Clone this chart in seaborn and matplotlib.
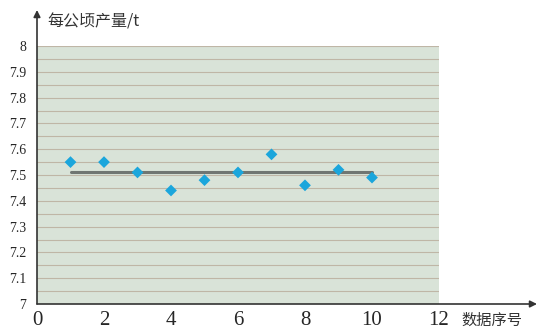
import matplotlib
matplotlib.use("Agg")
import matplotlib.pyplot as plt
import seaborn as sns
import pandas as pd

# data
seq = [1, 2, 3, 4, 5, 6, 7, 8, 9, 10]
yield_t = [7.55, 7.55, 7.51, 7.44, 7.48, 7.51, 7.58, 7.46, 7.52, 7.49]
mean_x = [1, 10]
mean_y = [7.51, 7.51]
xticks = [0, 2, 4, 6, 8, 10, 12]
yticks = [7, 7.1, 7.2, 7.3, 7.4, 7.5, 7.6, 7.7, 7.8, 7.9, 8]
ytick_labels = ["7", "7.1", "7.2", "7.3", "7.4", "7.5", "7.6", "7.7", "7.8", "7.9", "8"]
ylabel = "每公顷产量/t"
xlabel = "数据序号"

sns.set_theme(style="white")
plt.rcParams['font.family'] = ['Liberation Serif', 'Noto Sans CJK SC']

W, H = 539, 329
fig = plt.figure(figsize=(W / 100, H / 100), dpi=100)
L, R, T, B = 37, 439, 46, 304
ax = fig.add_axes([L / W, 1 - B / H, (R - L) / W, (B - T) / H])
ax.set_facecolor("#d9e3d8")

# horizontal grid lines every 0.05
for k in range(1, 21):
    ax.axhline(7 + k * 0.05, color="#bfb6a6", lw=0.8, zorder=1)

df = pd.DataFrame({"x": seq, "y": yield_t})
sns.lineplot(x=mean_x, y=mean_y, ax=ax, color="#707672", lw=2.2, zorder=3)
sns.scatterplot(data=df, x="x", y="y", ax=ax, marker="D", s=36, color="#1ba6dc",
                edgecolor="none", zorder=4)

ax.set_xlim(0, 12)
ax.set_ylim(7, 8)
ax.set_xticks(xticks)
ax.set_xticklabels([str(v) for v in xticks], fontsize=15, family='Liberation Serif')
ax.set_yticks(yticks)
ax.set_yticklabels(ytick_labels, fontsize=10, family='Liberation Serif')
ax.tick_params(axis="x", direction="in", length=3, color="#777777", pad=5)
ax.tick_params(axis="y", length=0, pad=8)
ax.set_xlabel("")
ax.set_ylabel("")

for s in ["top", "right", "left", "bottom"]:
    ax.spines[s].set_visible(False)

# axes arrows
ax.annotate("", xy=(0, (B - 10) / (B - T)), xytext=(0, 0), xycoords="axes fraction",
            arrowprops=dict(arrowstyle="-|>", color="#333333", lw=1.2, mutation_scale=10,
                            shrinkA=0, shrinkB=0), annotation_clip=False)
ax.annotate("", xy=((537 - L) / (R - L), 0), xytext=(0, 0), xycoords="axes fraction",
            arrowprops=dict(arrowstyle="-|>", color="#333333", lw=1.2, mutation_scale=10,
                            shrinkA=0, shrinkB=0), annotation_clip=False)

fig.text(47 / W, 1 - 22 / H, ylabel, fontsize=11.5, family=['Noto Sans CJK SC'],
         va="center", ha="left", color="#333333")
fig.text(461 / W, 1 - 320 / H, xlabel, fontsize=11, family=['Noto Sans CJK SC'],
         va="center", ha="left", color="#333333")

fig.savefig("out.png", dpi=100)
